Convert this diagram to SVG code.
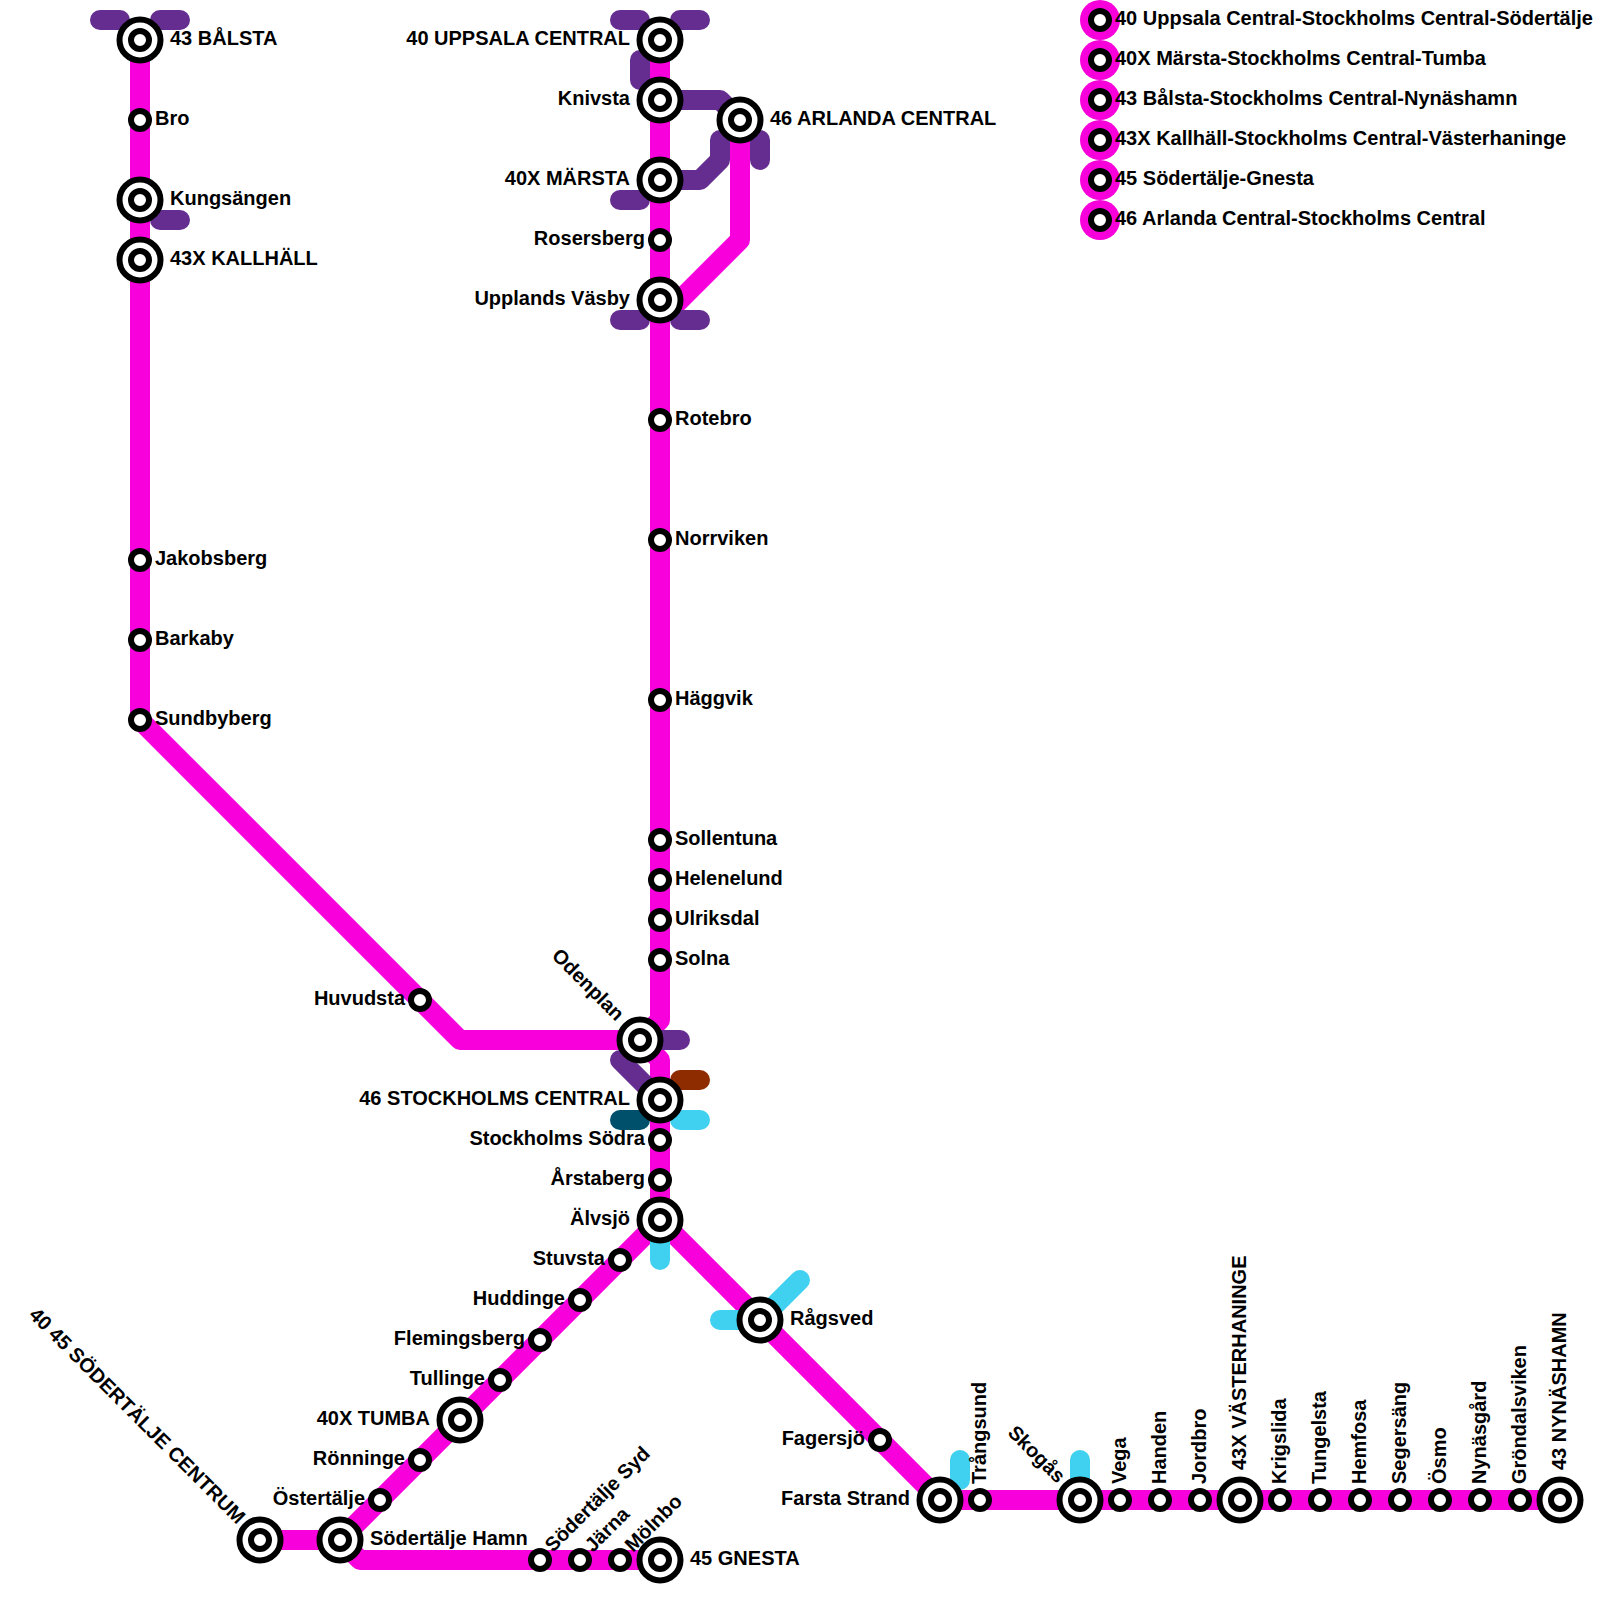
<svg xmlns="http://www.w3.org/2000/svg" width="1600" height="1600" viewBox="0 0 1600 1600">
<style>
text{font-family:"Liberation Sans",Arial,sans-serif;font-weight:bold;font-size:20px;fill:#000}
.e{text-anchor:end}
.l{fill:none;stroke-width:20;stroke-linecap:round;stroke-linejoin:round}
.m{stroke:#f700dc}.p{stroke:#662d91}.b{stroke:#40d0f0}.r{stroke:#8e2c00}.t{stroke:#00506b}
.o{fill:#fff;stroke:#000;stroke-width:6}
.i{fill:#fff;stroke:#000;stroke-width:6}
</style>
<defs>
<g id="big"><circle class="o" r="20.5"/><circle class="i" r="9"/></g>
<g id="small"><circle class="i" r="9"/></g>
<g id="leg"><circle r="20" fill="#f700dc"/><circle class="i" r="9"/></g>
</defs>
<g id="connectors">
<path class="l m" d="M140 40V720L460 1040H640"/>
<path class="l m" d="M660 40V1020L640 1040L660 1060V1220L340 1540H260"/>
<path class="l m" d="M340 1540L360 1560H660"/>
<path class="l m" d="M660 1220L940 1500H1560"/>
<path class="l m" d="M670 310L740 240V120"/>
<path class="l p" d="M100 20H120M160 20H180M160 220H180"/>
<path class="l p" d="M620 20H640M680 20H700M640 60V80M660 100H720L740 120M670 180H700L720 160V140M760 140V160M620 200H640M620 320H640M680 320H700"/>
<path class="l p" d="M660 1040H680M620 1060L645 1085"/>
<path class="l r" d="M680 1080H700"/>
<path class="l t" d="M620 1120H640"/>
<path class="l b" d="M680 1120H700M660 1230V1260M720 1320H760L800 1280M960 1460V1480M1080 1460V1490"/>
</g>
<g id="n-balsta"><use href="#big" x="140" y="40"/><text x="170" y="45">43 BÅLSTA</text></g>
<g id="n-bro"><use href="#small" x="140" y="120"/><text x="155" y="125">Bro</text></g>
<g id="n-kungsangen"><use href="#big" x="140" y="200"/><text x="170" y="205">Kungsängen</text></g>
<g id="n-kallhall"><use href="#big" x="140" y="260"/><text x="170" y="265">43X KALLHÄLL</text></g>
<g id="n-jakobsberg"><use href="#small" x="140" y="560"/><text x="155" y="565">Jakobsberg</text></g>
<g id="n-barkaby"><use href="#small" x="140" y="640"/><text x="155" y="645">Barkaby</text></g>
<g id="n-sundbyberg"><use href="#small" x="140" y="720"/><text x="155" y="725">Sundbyberg</text></g>
<g id="n-huvudsta"><use href="#small" x="420" y="1000"/><text class="e" x="405" y="1005">Huvudsta</text></g>
<g id="n-uppsala"><use href="#big" x="660" y="40"/><text class="e" x="630" y="45">40 UPPSALA CENTRAL</text></g>
<g id="n-knivsta"><use href="#big" x="660" y="100"/><text class="e" x="630" y="105">Knivsta</text></g>
<g id="n-arlanda"><use href="#big" x="740" y="120"/><text x="770" y="125">46 ARLANDA CENTRAL</text></g>
<g id="n-marsta"><use href="#big" x="660" y="180"/><text class="e" x="630" y="185">40X MÄRSTA</text></g>
<g id="n-rosersberg"><use href="#small" x="660" y="240"/><text class="e" x="645" y="245">Rosersberg</text></g>
<g id="n-vasby"><use href="#big" x="660" y="300"/><text class="e" x="630" y="305">Upplands Väsby</text></g>
<g id="n-rotebro"><use href="#small" x="660" y="420"/><text x="675" y="425">Rotebro</text></g>
<g id="n-norrviken"><use href="#small" x="660" y="540"/><text x="675" y="545">Norrviken</text></g>
<g id="n-haggvik"><use href="#small" x="660" y="700"/><text x="675" y="705">Häggvik</text></g>
<g id="n-sollentuna"><use href="#small" x="660" y="840"/><text x="675" y="845">Sollentuna</text></g>
<g id="n-helenelund"><use href="#small" x="660" y="880"/><text x="675" y="885">Helenelund</text></g>
<g id="n-ulriksdal"><use href="#small" x="660" y="920"/><text x="675" y="925">Ulriksdal</text></g>
<g id="n-solna"><use href="#small" x="660" y="960"/><text x="675" y="965">Solna</text></g>
<g id="n-odenplan"><use href="#big" x="640" y="1040"/><text class="e" transform="translate(616,1022) rotate(45)">Odenplan</text></g>
<g id="n-central"><use href="#big" x="660" y="1100"/><text class="e" x="630" y="1105">46 STOCKHOLMS CENTRAL</text></g>
<g id="n-sodra"><use href="#small" x="660" y="1140"/><text class="e" x="645" y="1145">Stockholms Södra</text></g>
<g id="n-arstaberg"><use href="#small" x="660" y="1180"/><text class="e" x="645" y="1185">Årstaberg</text></g>
<g id="n-alvsjo"><use href="#big" x="660" y="1220"/><text class="e" x="630" y="1225">Älvsjö</text></g>
<g id="n-stuvsta"><use href="#small" x="620" y="1260"/><text class="e" x="605" y="1265">Stuvsta</text></g>
<g id="n-huddinge"><use href="#small" x="580" y="1300"/><text class="e" x="565" y="1305">Huddinge</text></g>
<g id="n-flemingsberg"><use href="#small" x="540" y="1340"/><text class="e" x="525" y="1345">Flemingsberg</text></g>
<g id="n-tullinge"><use href="#small" x="500" y="1380"/><text class="e" x="485" y="1385">Tullinge</text></g>
<g id="n-tumba"><use href="#big" x="460" y="1420"/><text class="e" x="430" y="1425">40X TUMBA</text></g>
<g id="n-ronninge"><use href="#small" x="420" y="1460"/><text class="e" x="405" y="1465">Rönninge</text></g>
<g id="n-ostertalje"><use href="#small" x="380" y="1500"/><text class="e" x="365" y="1505">Östertälje</text></g>
<g id="n-hamn"><use href="#big" x="340" y="1540"/><text x="370" y="1545">Södertälje Hamn</text></g>
<g id="n-sodertalje"><use href="#big" x="260" y="1540"/><text class="e" transform="translate(237,1525) rotate(45)">40 45 SÖDERTÄLJE CENTRUM</text></g>
<g id="n-syd"><use href="#small" x="540" y="1560"/><text transform="translate(553,1553) rotate(-45)">Södertälje Syd</text></g>
<g id="n-jarna"><use href="#small" x="580" y="1560"/><text transform="translate(593,1553) rotate(-45)">Järna</text></g>
<g id="n-molnbo"><use href="#small" x="620" y="1560"/><text transform="translate(633,1553) rotate(-45)">Mölnbo</text></g>
<g id="n-gnesta"><use href="#big" x="660" y="1560"/><text x="690" y="1565">45 GNESTA</text></g>
<g id="n-ragsved"><use href="#big" x="760" y="1320"/><text x="790" y="1325">Rågsved</text></g>
<g id="n-fagersjo"><use href="#small" x="880" y="1440"/><text class="e" x="865" y="1445">Fagersjö</text></g>
<g id="n-farsta"><use href="#big" x="940" y="1500"/><text class="e" x="910" y="1505">Farsta Strand</text></g>
<g id="n-trangsund"><use href="#small" x="980" y="1500"/><text transform="translate(986,1484) rotate(-90)">Trångsund</text></g>
<g id="n-skogas"><use href="#big" x="1080" y="1500"/><text class="e" transform="translate(1057,1484) rotate(45)">Skogås</text></g>
<g id="n-vega"><use href="#small" x="1120" y="1500"/><text transform="translate(1126,1484) rotate(-90)">Vega</text></g>
<g id="n-handen"><use href="#small" x="1160" y="1500"/><text transform="translate(1166,1484) rotate(-90)">Handen</text></g>
<g id="n-jordbro"><use href="#small" x="1200" y="1500"/><text transform="translate(1206,1484) rotate(-90)">Jordbro</text></g>
<g id="n-vasterhaninge"><use href="#big" x="1240" y="1500"/><text transform="translate(1246,1470) rotate(-90)">43X VÄSTERHANINGE</text></g>
<g id="n-krigslida"><use href="#small" x="1280" y="1500"/><text transform="translate(1286,1484) rotate(-90)">Krigslida</text></g>
<g id="n-tungelsta"><use href="#small" x="1320" y="1500"/><text transform="translate(1326,1484) rotate(-90)">Tungelsta</text></g>
<g id="n-hemfosa"><use href="#small" x="1360" y="1500"/><text transform="translate(1366,1484) rotate(-90)">Hemfosa</text></g>
<g id="n-segersang"><use href="#small" x="1400" y="1500"/><text transform="translate(1406,1484) rotate(-90)">Segersäng</text></g>
<g id="n-osmo"><use href="#small" x="1440" y="1500"/><text transform="translate(1446,1484) rotate(-90)">Ösmo</text></g>
<g id="n-nynasgard"><use href="#small" x="1480" y="1500"/><text transform="translate(1486,1484) rotate(-90)">Nynäsgård</text></g>
<g id="n-grondalsviken"><use href="#small" x="1520" y="1500"/><text transform="translate(1526,1484) rotate(-90)">Gröndalsviken</text></g>
<g id="n-nynashamn"><use href="#big" x="1560" y="1500"/><text transform="translate(1566,1470) rotate(-90)">43 NYNÄSHAMN</text></g>
<g id="legend">
<use href="#leg" x="1100" y="20"/><text x="1115" y="25">40 Uppsala Central-Stockholms Central-Södertälje</text>
<use href="#leg" x="1100" y="60"/><text x="1115" y="65">40X Märsta-Stockholms Central-Tumba</text>
<use href="#leg" x="1100" y="100"/><text x="1115" y="105">43 Bålsta-Stockholms Central-Nynäshamn</text>
<use href="#leg" x="1100" y="140"/><text x="1115" y="145">43X Kallhäll-Stockholms Central-Västerhaninge</text>
<use href="#leg" x="1100" y="180"/><text x="1115" y="185">45 Södertälje-Gnesta</text>
<use href="#leg" x="1100" y="220"/><text x="1115" y="225">46 Arlanda Central-Stockholms Central</text>
</g>
</svg>
